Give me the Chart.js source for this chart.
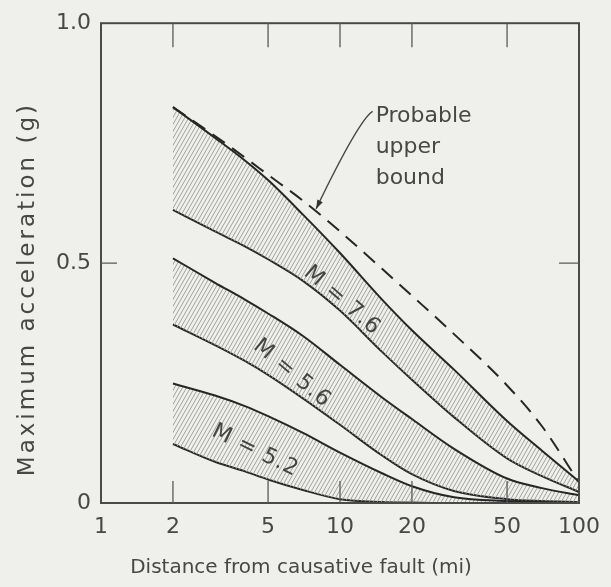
<!DOCTYPE html>
<html>
<head>
<meta charset="utf-8">
<script src="https://cdn.jsdelivr.net/npm/chart.js@4"></script>
<style>
html,body{margin:0;padding:0;background:#efefeb;}
canvas{display:block;}
</style>
</head>
<body>
<canvas id="c" width="611" height="587"></canvas>
<script>
// ---- data ----
const distances = [2, 3, 4, 5, 7, 10, 15, 20, 30, 50, 70, 100];
const m76Upper = [0.825, 0.761, 0.714, 0.673, 0.601, 0.521, 0.424, 0.360, 0.278, 0.171, 0.109, 0.045];
const m76Lower = [0.611, 0.566, 0.535, 0.508, 0.463, 0.401, 0.315, 0.257, 0.179, 0.093, 0.056, 0.023];
const m56Upper = [0.510, 0.459, 0.424, 0.395, 0.348, 0.288, 0.220, 0.175, 0.113, 0.051, 0.031, 0.016];
const m56Lower = [0.372, 0.329, 0.296, 0.267, 0.218, 0.163, 0.099, 0.060, 0.025, 0.008, 0.004, 0.002];
const m52Upper = [0.249, 0.224, 0.202, 0.181, 0.146, 0.105, 0.062, 0.035, 0.012, 0.004, 0.002, 0.002];
const m52Lower = [0.123, 0.086, 0.066, 0.049, 0.027, 0.008, 0.002, 0.001, 0.000, 0.000, 0.000, 0.000];
const upperBound = [0.825, 0.765, 0.720, 0.684, 0.630, 0.566, 0.488, 0.432, 0.352, 0.245, 0.160, 0.043];

const xTickValues = [1, 2, 5, 10, 20, 50, 100];
const xTickLabels = ['1', '2', '5', '10', '20', '50', '100'];
const yTickValues = [0, 0.5, 1.0];
const yTickLabels = ['0', '0.5', '1.0'];
const innerTickX = [2, 5, 10, 20, 50];
const innerTickY = [0.5];

const bandLabels = ['M = 7.6', 'M = 5.6', 'M = 5.2'];
const bandLabelX = [10.2, 6.3, 4.42];
const bandLabelY = [0.422, 0.27, 0.109];
const bandLabelAngle = [41, 40, 26];

const noteLines = ['Probable', 'upper', 'bound'];
const noteX = 14.1, noteY = 0.794;
const arrowTip = {x: 7.94, y: 0.613};
const arrowTail = {x: 12.5, y: 0.812};

const xTitle = 'Distance from causative fault (mi)';
const yTitle = 'Maximum acceleration (g)';

// ---- styles ----
const INK = '#262626';
const TEXT = '#474747';
const FONT = '"DejaVu Sans", "Liberation Sans", sans-serif';

function hatch() {
  const w = 4, h = 7;
  const c = document.createElement('canvas');
  c.width = w; c.height = h;
  const g = c.getContext('2d');
  g.strokeStyle = '#a0a09c';
  g.lineWidth = 1;
  g.beginPath();
  g.moveTo(0, h); g.lineTo(w, 0);
  g.moveTo(-w, h); g.lineTo(0, 0);
  g.moveTo(w, h); g.lineTo(2 * w, 0);
  g.stroke();
  return g.createPattern(c, 'repeat');
}
const pat = hatch();

function pts(arr) { return distances.map((x, i) => ({x: x, y: arr[i]})); }
function line(arr, fill) {
  return {
    data: pts(arr), borderColor: INK, borderWidth: 2, pointRadius: 0,
    cubicInterpolationMode: 'monotone', fill: fill ? '+1' : false,
    backgroundColor: pat
  };
}

const deco = {
  id: 'deco',
  beforeDraw(chart) {
    const ctx = chart.ctx;
    ctx.save();
    ctx.fillStyle = '#efefeb';
    ctx.fillRect(0, 0, chart.width, chart.height);
    ctx.restore();
  },
  afterDraw(chart) {
    const ctx = chart.ctx;
    const xs = chart.scales.x, ys = chart.scales.y;
    const a = chart.chartArea;
    ctx.save();
    // frame
    ctx.strokeStyle = '#4a4a4a';
    ctx.lineWidth = 2;
    ctx.strokeRect(a.left, a.top, a.right - a.left, a.bottom - a.top);
    // inward ticks
    ctx.lineWidth = 1.3;
    ctx.strokeStyle = '#5a5a5a';
    ctx.beginPath();
    innerTickX.forEach(v => {
      const px = xs.getPixelForValue(v);
      ctx.moveTo(px, a.top); ctx.lineTo(px, a.top + 24);
      ctx.moveTo(px, a.bottom); ctx.lineTo(px, a.bottom - 22);
    });
    innerTickY.forEach(v => {
      const py = ys.getPixelForValue(v);
      ctx.moveTo(a.left, py); ctx.lineTo(a.left + 16, py);
      ctx.moveTo(a.right, py); ctx.lineTo(a.right - 20, py);
    });
    ctx.stroke();

    // band labels
    ctx.fillStyle = '#444';
    ctx.font = '22px ' + FONT;
    ctx.letterSpacing = '1px';
    ctx.textAlign = 'center';
    ctx.textBaseline = 'middle';
    bandLabels.forEach((t, i) => {
      const px = xs.getPixelForValue(bandLabelX[i]);
      const py = ys.getPixelForValue(bandLabelY[i]);
      ctx.save();
      ctx.translate(px, py);
      ctx.rotate(bandLabelAngle[i] * Math.PI / 180);
      ctx.fillText(t, 0, 0);
      ctx.restore();
    });
    ctx.letterSpacing = '0px';

    // note text
    ctx.textAlign = 'left';
    ctx.textBaseline = 'alphabetic';
    ctx.fillStyle = TEXT;
    ctx.font = '22px ' + FONT;
    const nx = xs.getPixelForValue(noteX), ny = ys.getPixelForValue(noteY);
    noteLines.forEach((t, i) => ctx.fillText(t, nx, ny + i * 31));

    // leader + arrowhead
    const tx = xs.getPixelForValue(arrowTip.x), ty = ys.getPixelForValue(arrowTip.y);
    const lx = xs.getPixelForValue(arrowTail.x), ly = ys.getPixelForValue(arrowTail.y);
    ctx.strokeStyle = '#444';
    ctx.lineWidth = 1.3;
    ctx.beginPath();
    ctx.moveTo(tx, ty);
    ctx.quadraticCurveTo(lx - 4, ly + 6, nx - 3, ly - 2);
    ctx.stroke();
    const ang = Math.atan2(ty - ly, tx - lx);
    ctx.fillStyle = '#333';
    ctx.beginPath();
    ctx.moveTo(tx, ty);
    ctx.lineTo(tx - 9 * Math.cos(ang) + 3 * Math.sin(ang), ty - 9 * Math.sin(ang) - 3 * Math.cos(ang));
    ctx.lineTo(tx - 9 * Math.cos(ang) - 3 * Math.sin(ang), ty - 9 * Math.sin(ang) + 3 * Math.cos(ang));
    ctx.closePath();
    ctx.fill();

    // axis titles
    ctx.fillStyle = TEXT;
    ctx.font = '20px ' + FONT;
    ctx.textAlign = 'center';
    ctx.textBaseline = 'middle';
    ctx.fillText(xTitle, (a.left + a.right) / 2 - 39, 568);
    ctx.save();
    ctx.font = '23px ' + FONT;
    ctx.letterSpacing = '3px';
    ctx.translate(28, (a.top + a.bottom) / 2 + 26);
    ctx.rotate(-Math.PI / 2);
    ctx.fillText(yTitle, 0, 0);
    ctx.restore();
    ctx.restore();
  }
};

new Chart(document.getElementById('c'), {
  type: 'line',
  data: {
    datasets: [
      line(m76Upper, true), line(m76Lower, false),
      line(m56Upper, true), line(m56Lower, false),
      line(m52Upper, true), line(m52Lower, false),
      Object.assign(line(upperBound, false), {borderDash: [15, 9], borderWidth: 2})
    ]
  },
  options: {
    responsive: false,
    devicePixelRatio: 1,
    animation: false,
    layout: {padding: {left: 0, right: 30, top: 17, bottom: 0}},
    plugins: {legend: {display: false}, tooltip: {enabled: false}},
    scales: {
      x: {
        type: 'logarithmic', min: 1, max: 100,
        grid: {display: false, drawTicks: false},
        border: {display: false},
        afterBuildTicks: s => { s.ticks = xTickValues.map(v => ({value: v})); },
        afterFit: s => { s.height = 84; },
        ticks: {
          autoSkip: false, maxRotation: 0, padding: 11,
          color: TEXT, font: {family: FONT, size: 22},
          callback: (v, i) => xTickLabels[i]
        }
      },
      y: {
        type: 'linear', min: 0, max: 1,
        grid: {display: false, drawTicks: false},
        border: {display: false},
        afterBuildTicks: s => { s.ticks = yTickValues.map(v => ({value: v})); },
        afterFit: s => { s.width = 101; },
        ticks: {
          autoSkip: false, padding: 10,
          color: TEXT, font: {family: FONT, size: 22},
          callback: (v, i) => yTickLabels[i]
        }
      }
    }
  },
  plugins: [deco]
});
</script>
</body>
</html>
